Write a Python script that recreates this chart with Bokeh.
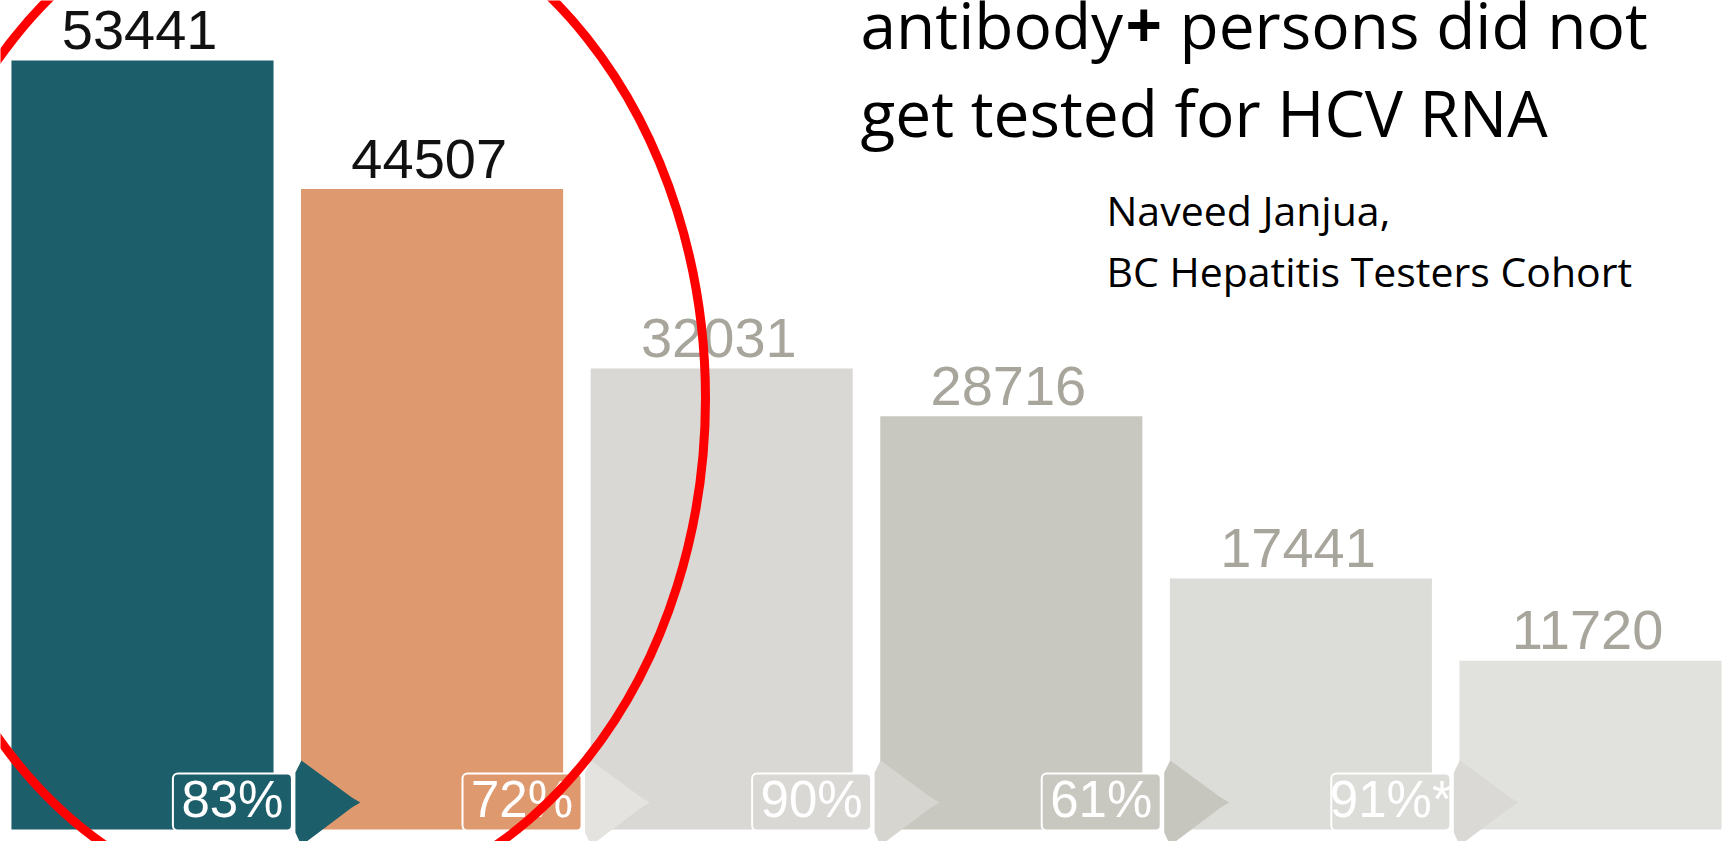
from bokeh.plotting import figure
from bokeh.models import Range1d, Label
from bokeh.core.properties import value
from bokeh.embed import file_html
from bokeh.resources import INLINE

# ---------------- data ----------------
counts = [53441, 44507, 32031, 28716, 17441, 11720]
conversion = ["83%", "72%", "90%", "61%", "91%*"]
bar_colors = ["#1d5e6b", "#df996f", "#d9d8d4", "#c8c7c0", "#dcdcd8", "#e1e1dd"]
label_colors = ["#111111", "#111111", "#a8a69c", "#a8a69c", "#a8a69c", "#a8a69c"]
arrow_colors = ["#1d5e6b", "#e4e3df", "#d6d5d0", "#c6c6be", "#dad9d5"]
title_lines = ["antibody", "+", "persons did not", "get tested for HCV RNA"]
credit_lines = ["Naveed Janjua,", "BC Hepatitis Testers Cohort"]

# ---------------- layout ----------------
W, H = 1729, 841
PITCH = 289.6           # px per category
FIRST_C = 142           # page x of first bar centre
BASE = 829              # page y of bar baseline
SY = 0.01439            # px per count
BL = 0.4                # baseline correction (em)

xs0 = -FIRST_C / PITCH
xe0 = xs0 + W / PITCH
ye0 = BASE / SY
ys0 = ye0 - H / SY


def X(px):
    return xs0 + px / PITCH


def Y(py):
    return ye0 - py / SY


p = figure(width=W, height=H, output_backend="svg", toolbar_location=None,
           x_range=Range1d(xs0, xe0), y_range=Range1d(ys0, ye0),
           x_axis_location=None, y_axis_location=None,
           min_border=0, min_border_left=0, min_border_right=0,
           min_border_top=0, min_border_bottom=0)
p.grid.visible = False
p.outline_line_color = None
p.background_fill_color = "white"
p.border_fill_color = "white"

idx = list(range(len(counts)))

# bars
p.vbar(x=idx, width=0.905, top=counts, bottom=0, fill_color=bar_colors,
       line_color=None)

# value labels
VAL_SIZE = 56
p.text(x=[i - 0.01 for i in idx], y=[c + (8 + BL * VAL_SIZE) / SY for c in counts],
       text=[str(c) for c in counts],
       text_align="center", text_baseline="alphabetic",
       text_font=value("Liberation Sans"), text_font_size=f"{VAL_SIZE}px",
       text_color=label_colors)

# arrows between bars
n = len(conversion)
ax, ay = [], []
dx = 6 / PITCH
for i in range(n):
    L = i + 0.528
    T = i + 0.752
    ax.append([L, L + dx, T - 1.4 * dx, T, T - 1.4 * dx, L + dx, L])
    ay.append([Y(772), Y(760), Y(797), Y(802), Y(807), Y(845), Y(832)])
p.patches(xs=ax, ys=ay, fill_color=arrow_colors, line_color=None)

# conversion boxes
PCT_SIZE = 51
p.quad(left=[i + 0.105 for i in range(n)], right=[i + 0.516 for i in range(n)],
       top=Y(773), bottom=Y(830), fill_color=bar_colors[:n],
       line_color="white", line_width=2, border_radius=5)
p.text(x=[i + 0.3105 for i in range(n)], y=Y(819 - BL * PCT_SIZE),
       text=conversion,
       text_align="center", text_baseline="alphabetic",
       text_font=value("Liberation Sans"), text_font_size=f"{PCT_SIZE}px",
       text_color="white")

# red ellipse highlight
p.ellipse(x=X(300), y=Y(398), width=810, height=1020,
          width_units="screen", height_units="screen",
          fill_color=None, line_color="#ff0000", line_width=9)


# title text
def lab(txt, px, py, size, bold=False):
    p.add_layout(Label(x=X(px), y=Y(py - BL * size), text=txt,
                       text_font="Open Sans",
                       text_font_size=f"{size}px", text_color="black",
                       text_baseline="alphabetic", text_align="left",
                       text_font_style="bold" if bold else "normal"))


lab(title_lines[0], 860, 50, 64)
lab(title_lines[1], 1125, 50, 64, bold=True)
lab(title_lines[2], 1179, 50, 64)
lab(title_lines[3], 860, 138, 64)
lab(credit_lines[0], 1106, 226, 41)
lab(credit_lines[1], 1106, 287, 41)

open("out.html", "w").write(file_html(p, INLINE))
